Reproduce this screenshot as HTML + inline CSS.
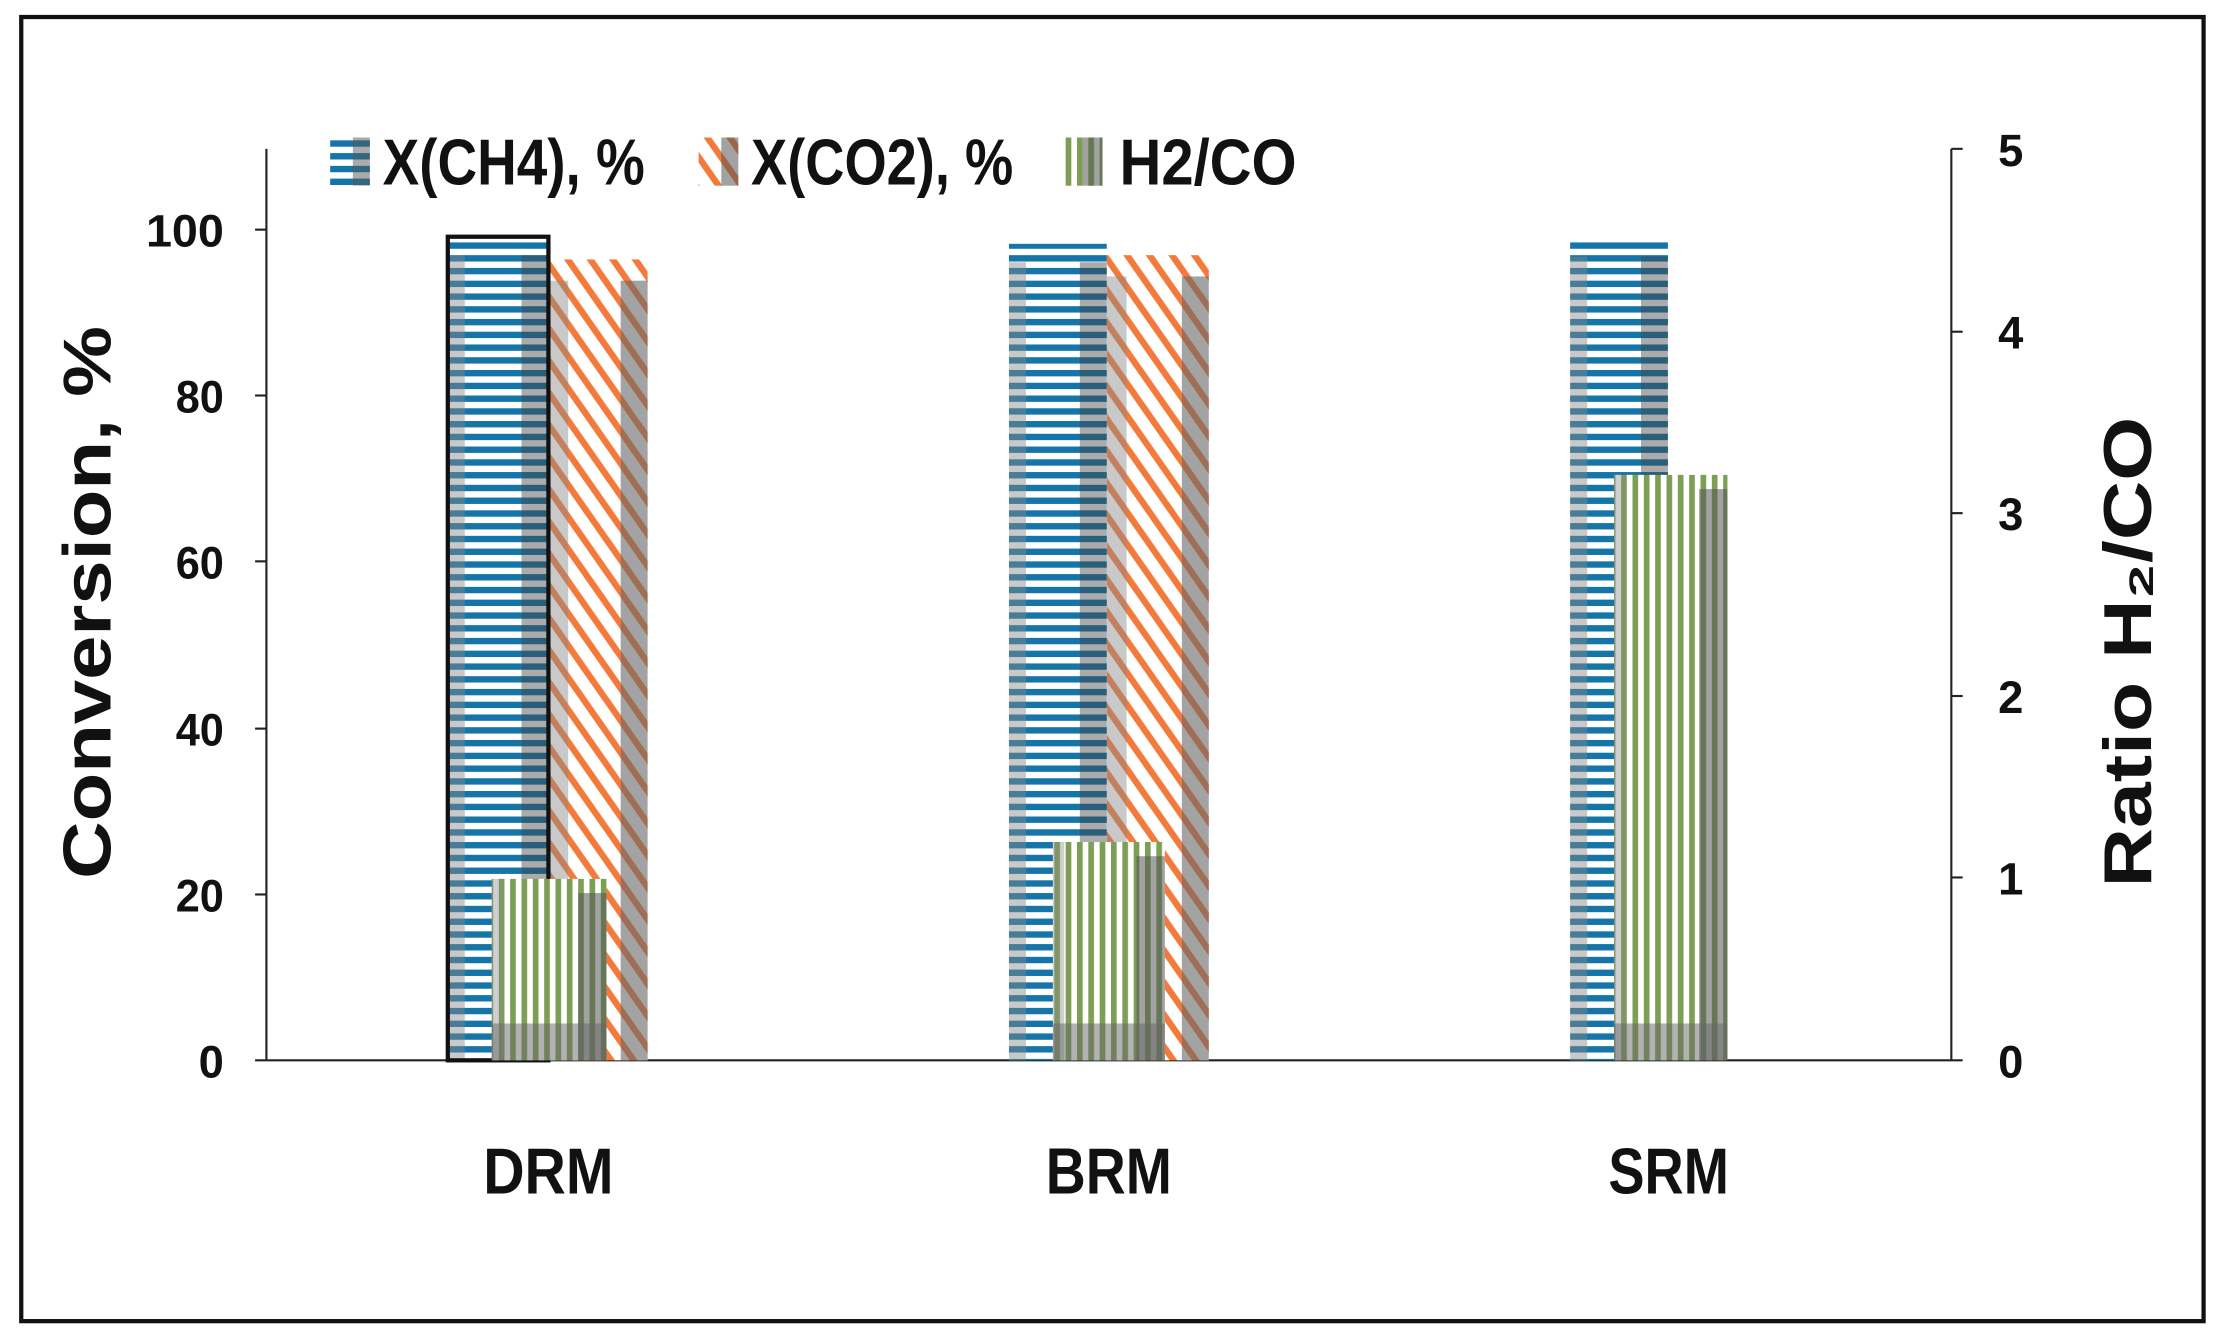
<!DOCTYPE html>
<html><head><meta charset="utf-8"><style>
html,body{margin:0;padding:0;background:#fff;}
svg{display:block;}
</style></head><body>
<svg width="2222" height="1341" viewBox="0 0 1568 946" preserveAspectRatio="none" xmlns="http://www.w3.org/2000/svg">
<defs>
<pattern id="hs" width="10" height="9" patternUnits="userSpaceOnUse">
<rect width="10" height="9" fill="#fff"/><rect width="10" height="4.5" fill="#1575a8"/>
</pattern>
<pattern id="ds" width="13" height="13" patternUnits="userSpaceOnUse" patternTransform="rotate(-35)">
<rect width="13" height="13" fill="#fff"/><rect width="4.5" height="13" fill="#f47a3c"/>
</pattern>
<pattern id="vs" width="8" height="10" patternUnits="userSpaceOnUse">
<rect width="8" height="10" fill="#fff"/><rect width="4" height="10" fill="#7c9e55"/>
</pattern>
</defs>
<rect x="0" y="0" width="1568" height="946" fill="#fff"/>
<rect x="15" y="12" width="1540" height="920" fill="none" stroke="#111" stroke-width="3"/>

<g stroke="#222" stroke-width="1.5" fill="none">
<line x1="188" y1="105" x2="188" y2="748"/>
<line x1="180" y1="748" x2="1385" y2="748"/>
<line x1="1377" y1="105" x2="1377" y2="748"/>
<line x1="180" y1="162" x2="188" y2="162"/><line x1="180" y1="279" x2="188" y2="279"/>
<line x1="180" y1="396" x2="188" y2="396"/><line x1="180" y1="514" x2="188" y2="514"/>
<line x1="180" y1="631" x2="188" y2="631"/>
<line x1="1377" y1="105" x2="1385" y2="105"/><line x1="1377" y1="234" x2="1385" y2="234"/>
<line x1="1377" y1="362" x2="1385" y2="362"/><line x1="1377" y1="491" x2="1385" y2="491"/>
<line x1="1377" y1="619" x2="1385" y2="619"/>
</g>
<g font-family="'Liberation Sans',sans-serif" font-weight="bold" font-size="32" fill="#111" lengthAdjust="spacingAndGlyphs">
<g text-anchor="end">
<text x="158" y="760">0</text><text x="158" y="643" textLength="34" lengthAdjust="spacingAndGlyphs">20</text><text x="158" y="526" textLength="34" lengthAdjust="spacingAndGlyphs">40</text>
<text x="158" y="408" textLength="34" lengthAdjust="spacingAndGlyphs">60</text><text x="158" y="291" textLength="34" lengthAdjust="spacingAndGlyphs">80</text><text x="158" y="174" textLength="55" lengthAdjust="spacingAndGlyphs">100</text>
</g>
<text x="1410" y="760">0</text><text x="1410" y="631">1</text><text x="1410" y="503">2</text>
<text x="1410" y="374">3</text><text x="1410" y="246">4</text><text x="1410" y="117">5</text>
<g font-size="46">
<text x="341" y="842" textLength="92" lengthAdjust="spacingAndGlyphs">DRM</text>
<text x="738" y="842" textLength="89" lengthAdjust="spacingAndGlyphs">BRM</text>
<text x="1135" y="842" textLength="85" lengthAdjust="spacingAndGlyphs">SRM</text>
</g>
<g font-size="46">
<text x="270" y="130" textLength="185" lengthAdjust="spacingAndGlyphs">X(CH4), %</text>
<text x="530" y="130" textLength="185" lengthAdjust="spacingAndGlyphs">X(CO2), %</text>
<text x="790" y="130" textLength="125" lengthAdjust="spacingAndGlyphs">H2/CO</text>
</g>
</g>
<rect x="233" y="97" width="28" height="34" fill="url(#hs)"/><rect x="249" y="97" width="12" height="34" fill="#555" opacity="0.5"/>
<rect x="493" y="97" width="28" height="34" fill="url(#ds)"/><rect x="509" y="97" width="12" height="34" fill="#555" opacity="0.55"/>
<rect x="750" y="97" width="28" height="34" fill="url(#vs)"/><rect x="764" y="97" width="14" height="34" fill="#555" opacity="0.55"/>

<g font-family="'Liberation Sans',sans-serif" font-weight="bold" font-size="48" fill="#111">
<text transform="translate(78,620) rotate(-90)" textLength="390" lengthAdjust="spacingAndGlyphs">Conversion, %</text>
<text transform="translate(1518,626) rotate(-90)" textLength="332" lengthAdjust="spacingAndGlyphs">Ratio H₂/CO</text>
</g>

<!-- DRM -->
<rect x="387" y="183" width="70" height="565" fill="url(#ds)"/>
<rect x="387" y="198" width="14" height="550" fill="#888" opacity="0.45"/>
<rect x="438" y="198" width="19" height="550" fill="#666" opacity="0.6"/>
<rect x="316" y="167" width="71" height="581" fill="url(#hs)"/>
<rect x="316" y="180" width="12" height="568" fill="#888" opacity="0.45"/>
<rect x="368" y="180" width="19" height="568" fill="#444" opacity="0.45"/>
<rect x="316" y="167" width="71" height="581" fill="none" stroke="#111" stroke-width="3"/>
<rect x="347" y="620" width="81" height="128" fill="url(#vs)"/>
<rect x="347" y="620" width="8" height="128" fill="#888" opacity="0.4"/>
<rect x="408" y="630" width="20" height="118" fill="#555" opacity="0.55"/>
<rect x="347" y="722" width="81" height="26" fill="#666" opacity="0.5"/>
<!-- BRM -->
<rect x="781" y="180" width="72" height="568" fill="url(#ds)"/>
<rect x="781" y="195" width="14" height="553" fill="#888" opacity="0.45"/>
<rect x="834" y="195" width="19" height="553" fill="#666" opacity="0.6"/>
<rect x="712" y="172" width="69" height="576" fill="url(#hs)"/>
<rect x="712" y="185" width="12" height="563" fill="#888" opacity="0.45"/>
<rect x="762" y="185" width="19" height="563" fill="#444" opacity="0.45"/>
<rect x="743" y="594" width="79" height="154" fill="url(#vs)"/>
<rect x="743" y="594" width="8" height="154" fill="#888" opacity="0.4"/>
<rect x="802" y="604" width="20" height="144" fill="#555" opacity="0.55"/>
<rect x="743" y="722" width="79" height="26" fill="#666" opacity="0.5"/>
<!-- SRM -->
<rect x="1108" y="168" width="69" height="580" fill="url(#hs)"/>
<rect x="1108" y="181" width="12" height="567" fill="#888" opacity="0.45"/>
<rect x="1158" y="181" width="19" height="567" fill="#444" opacity="0.45"/>
<rect x="1139" y="335" width="80" height="413" fill="url(#vs)"/>
<rect x="1139" y="335" width="8" height="413" fill="#888" opacity="0.4"/>
<rect x="1199" y="345" width="20" height="403" fill="#555" opacity="0.55"/>
<rect x="1139" y="722" width="80" height="26" fill="#666" opacity="0.5"/>
</svg>
</body></html>
